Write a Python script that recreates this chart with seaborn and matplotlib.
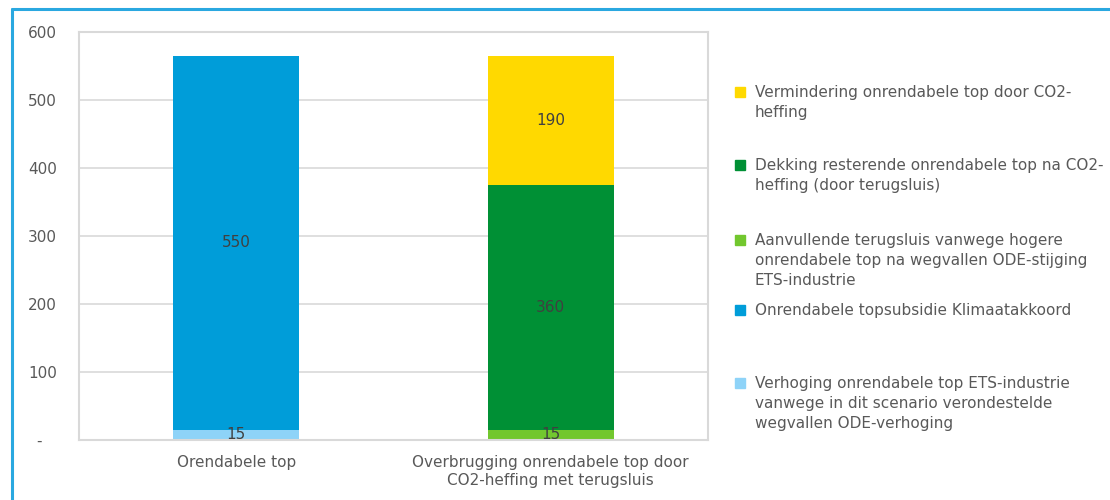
import numpy as np
import pandas as pd
import matplotlib
matplotlib.use("Agg")
import matplotlib.pyplot as plt
from matplotlib.lines import Line2D
from matplotlib.patches import Rectangle
import seaborn as sns

categories = ["Orendabele top", "Overbrugging onrendabele top door\nCO2-heffing met terugsluis"]
series_names = [
    "Verhoging onrendabele top ETS-industrie\nvanwege in dit scenario verondestelde\nwegvallen ODE-verhoging",
    "Onrendabele topsubsidie Klimaatakkoord",
    "Aanvullende terugsluis vanwege hogere\nonrendabele top na wegvallen ODE-stijging\nETS-industrie",
    "Dekking resterende onrendabele top na CO2-\nheffing (door terugsluis)",
    "Vermindering onrendabele top door CO2-\nheffing",
]
verhoging = [15, 0]
topsubsidie = [550, 0]
aanvullende = [0, 15]
dekking = [0, 360]
vermindering = [0, 190]
series_values = [verhoging, topsubsidie, aanvullende, dekking, vermindering]
colors = ["#8ED3F8", "#009DD9", "#72C72E", "#009035", "#FFD900"]
yticks = [0, 100, 200, 300, 400, 500, 600]
yticklabels = ["-   ", "100", "200", "300", "400", "500", "600"]

sns.set_theme(style="white")
plt.rcParams["font.family"] = ["DejaVu Sans"]
txt = "#595959"
fs = 11

fig = plt.figure(figsize=(11.1, 5.0), dpi=100)
ax = fig.add_axes([0.0712, 0.12, 0.5667, 0.816])

vals = np.array(series_values, dtype=float)
cum = np.cumsum(vals, axis=0)

# draw from the top layer down so lower layers overlay
for i in range(len(series_values) - 1, -1, -1):
    df = pd.DataFrame({"cat": categories, "val": cum[i]})
    sns.barplot(data=df, x="cat", y="val", order=categories, color=colors[i],
                saturation=1, width=0.4, errorbar=None, ax=ax, linewidth=0)

# data labels
for i in range(len(series_values)):
    for j in range(len(categories)):
        v = vals[i, j]
        if v > 0:
            ax.text(j, cum[i, j] - v / 2, f"{int(v)}", ha="center", va="center",
                    fontsize=fs, color="#404040")

ax.set_ylim(0, 600)
ax.set_xlim(-0.5, 1.5)
ax.set_yticks(yticks)
ax.set_yticklabels(yticklabels)
ax.set_xlabel("")
ax.set_ylabel("")
ax.yaxis.grid(True, color="#D9D9D9", linewidth=1.2)
ax.set_axisbelow(True)
for s in ax.spines.values():
    s.set_visible(True)
    s.set_color("#D9D9D9")
    s.set_linewidth(1.5)
ax.tick_params(axis="both", length=0, labelsize=fs, colors=txt)
ax.tick_params(axis="y", pad=16)
ax.tick_params(axis="x", pad=11)

# legend (reverse order, top to bottom); first-line centres in pixels
leg_px = [92, 165, 240, 310, 383]
for k, i in enumerate(range(len(series_names) - 1, -1, -1)):
    y = 1 - leg_px[k] / 500
    fig.patches.append(Rectangle((0.6625, y - 0.0095), 0.0085, 0.019,
                                 transform=fig.transFigure, color=colors[i]))
    fig.text(0.680, y + 0.014, series_names[i], ha="left", va="top",
             fontsize=fs, color=txt, linespacing=1.42)

# outer blue frame lines
fig.add_artist(Line2D([0.011, 1.0], [0.982, 0.982], transform=fig.transFigure,
                      color="#2AA8E0", linewidth=2.2))
fig.add_artist(Line2D([0.011, 0.011], [0.0, 0.982], transform=fig.transFigure,
                      color="#2AA8E0", linewidth=2.2))

fig.savefig("out.png", dpi=100, facecolor="white")
